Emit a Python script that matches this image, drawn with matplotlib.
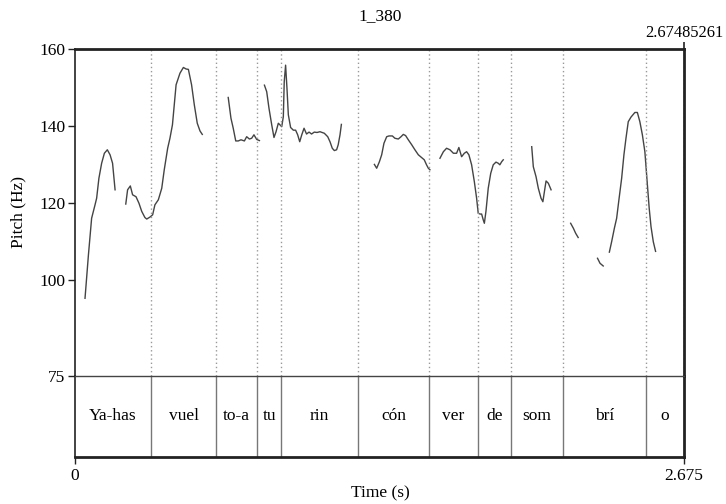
import matplotlib
matplotlib.use('Agg')
import matplotlib.pyplot as plt

plt.rcParams['font.family'] = ['Liberation Serif', 'DejaVu Serif']

# total duration and text tier
T_END = 2.67485261
syllables = ['Ya-has', 'vuel', 'to-a', 'tu', 'rin', 'cón', 'ver', 'de', 'som', 'brí', 'o']
bounds = [0.0, 0.334, 0.621, 0.799, 0.906, 1.244, 1.555, 1.771, 1.913, 2.144, 2.507, T_END]

# pitch contour pieces (time s, Hz)
seg1_t = [0.044, 0.059, 0.073, 0.088, 0.095, 0.105, 0.117, 0.129, 0.142, 0.154, 0.165, 0.176]
seg1_hz = [95.2, 106.5, 116.0, 119.5, 121.2, 126.4, 130.3, 132.9, 133.8, 132.5, 130.3, 123.4]

seg2_t = [0.223, 0.231, 0.243, 0.253, 0.268, 0.281, 0.293, 0.307, 0.315, 0.329, 0.341, 0.351,
          0.366, 0.381, 0.392, 0.407, 0.417, 0.428, 0.444, 0.461, 0.476, 0.488, 0.498, 0.512,
          0.524, 0.537, 0.549, 0.559]
seg2_hz = [119.7, 123.4, 124.4, 122.1, 121.6, 119.9, 117.8, 116.2, 115.8, 116.3, 116.9, 119.5,
           120.8, 123.8, 128.6, 134.2, 136.8, 140.3, 150.7, 153.7, 155.2, 154.8, 154.7, 150.7,
           145.5, 140.7, 138.7, 137.8]

seg3_t = [0.673, 0.685, 0.695, 0.706, 0.717, 0.729, 0.744, 0.754, 0.766, 0.776, 0.786, 0.798, 0.810]
seg3_hz = [147.4, 142.0, 139.4, 136.1, 136.1, 136.4, 136.1, 137.2, 136.6, 136.8, 137.7, 136.5, 136.2]

seg4_t = [0.832, 0.842, 0.852, 0.864, 0.874, 0.883, 0.893, 0.900, 0.908, 0.915, 0.919, 0.925,
          0.931, 0.937, 0.947, 0.959, 0.969, 0.978, 0.987, 0.996, 1.006, 1.017, 1.028, 1.039,
          1.051, 1.063, 1.076, 1.095, 1.110, 1.120, 1.130, 1.139, 1.149, 1.156, 1.164, 1.170]
seg4_hz = [150.6, 148.9, 144.6, 140.3, 137.0, 138.5, 140.7, 140.3, 139.8, 142.4, 151.5, 155.8,
           149.8, 142.9, 139.6, 138.9, 138.9, 137.7, 135.9, 137.7, 139.4, 137.9, 138.4, 137.9,
           138.4, 138.3, 138.5, 138.1, 137.2, 135.9, 134.2, 133.6, 133.8, 135.1, 137.7, 140.4]

seg5_t = [1.315, 1.325, 1.337, 1.347, 1.357, 1.369, 1.379, 1.394, 1.405, 1.420, 1.432, 1.442,
          1.452, 1.464, 1.479, 1.493, 1.508, 1.522, 1.534, 1.544, 1.552, 1.559]
seg5_hz = [130.0, 129.0, 130.7, 132.5, 135.5, 137.2, 137.4, 137.4, 136.8, 136.6, 137.2, 137.8,
           137.5, 136.4, 135.1, 133.8, 132.5, 131.8, 131.2, 129.9, 129.0, 128.6]

seg6_t = [1.603, 1.618, 1.632, 1.647, 1.662, 1.676, 1.686, 1.698, 1.710, 1.720, 1.730, 1.742,
          1.754, 1.764, 1.771, 1.779, 1.786, 1.793, 1.798, 1.805, 1.815, 1.826, 1.837, 1.849,
          1.859, 1.866, 1.874, 1.881]
seg6_hz = [131.6, 133.3, 134.2, 133.8, 132.9, 132.9, 134.4, 132.0, 132.9, 133.3, 132.5, 129.9,
           125.5, 121.2, 117.3, 117.1, 117.1, 115.6, 114.7, 117.8, 123.8, 127.7, 129.9, 130.6,
           130.3, 129.9, 130.7, 131.2]

seg7_t = [2.006, 2.013, 2.025, 2.035, 2.047, 2.055, 2.064, 2.069, 2.079, 2.091]
seg7_hz = [134.6, 129.4, 126.8, 123.8, 121.2, 120.3, 123.8, 125.7, 125.1, 123.4]

seg8_t = [2.177, 2.189, 2.199, 2.210]
seg8_hz = [114.7, 113.4, 112.1, 111.0]

seg9_t = [2.295, 2.306, 2.320]
seg9_hz = [105.6, 104.3, 103.6]

seg10_t = [2.347, 2.357, 2.369, 2.379, 2.389, 2.401, 2.411, 2.420, 2.430, 2.442, 2.452, 2.459,
           2.470, 2.481, 2.492, 2.503, 2.513, 2.522, 2.530, 2.540, 2.550]
seg10_hz = [107.2, 109.9, 113.4, 116.0, 120.8, 126.4, 132.5, 136.8, 141.1, 142.3, 143.0, 143.5,
            143.5, 141.1, 137.7, 133.3, 125.5, 118.6, 113.8, 109.9, 107.4]

segments = [(seg1_t, seg1_hz), (seg2_t, seg2_hz), (seg3_t, seg3_hz), (seg4_t, seg4_hz),
            (seg5_t, seg5_hz), (seg6_t, seg6_hz), (seg7_t, seg7_hz), (seg8_t, seg8_hz),
            (seg9_t, seg9_hz), (seg10_t, seg10_hz)]

W, H = 726, 504
fig = plt.figure(figsize=(W / 100, H / 100), dpi=100)
L, R = 75 / W, 684 / W
tier = fig.add_axes([L, 1 - 457 / H, R - L, (457 - 376) / H])
ax = fig.add_axes([L, 1 - 376 / H, R - L, (376 - 49) / H])
ax.patch.set_visible(False)

FS = 12.5
edge = '#222222'

# pitch panel
for t, hz in segments:
    ax.plot(t, hz, color='#444444', lw=1.0)
for b in bounds[1:]:
    ax.axvline(b, color='#999999', lw=1.0, ls=(0, (1, 2)))
ax.set_xlim(0, T_END)
ax.set_ylim(75, 160)
ax.set_yticks([75, 100, 120, 140, 160])
ax.tick_params(axis='y', direction='out', length=5, width=1, labelsize=FS, color=edge, pad=2)
ax.xaxis.set_ticks_position('top')
ax.set_xticks([T_END])
ax.set_xticklabels(['2.67485261'])
ax.tick_params(axis='x', direction='out', length=5, width=1.2, labelsize=11.8, color=edge, pad=1)
for s in ['top', 'right', 'left']:
    ax.spines[s].set_color(edge)
ax.spines['top'].set_linewidth(2)
ax.spines['right'].set_linewidth(2)
ax.spines['left'].set_linewidth(1.2)
ax.spines['bottom'].set_color('#444444')
ax.spines['bottom'].set_linewidth(1.0)

# text tier
for b in bounds[1:-1]:
    tier.axvline(b, color='#777777', lw=1.0)
for i, lab in enumerate(syllables):
    tier.text((bounds[i] + bounds[i + 1]) / 2, 0.5, lab, ha='center', va='center', fontsize=FS)
tier.set_xlim(0, T_END)
tier.set_ylim(0, 1)
tier.set_yticks([])
tier.set_xticks([0, 2.675])
tier.set_xticklabels(['0', '2.675'])
tier.tick_params(axis='x', direction='out', length=5, width=1, labelsize=FS, color=edge, pad=3)
tier.spines['top'].set_visible(False)
for s in ['bottom', 'right', 'left']:
    tier.spines[s].set_color(edge)
tier.spines['bottom'].set_linewidth(2)
tier.spines['right'].set_linewidth(2)
tier.spines['left'].set_linewidth(1.2)

fig.text(380 / W, 1 - 16 / H, '1_380', ha='center', va='center', fontsize=FS)
fig.text(18 / W, 1 - 212 / H, 'Pitch (Hz)', ha='center', va='center', rotation=90, fontsize=FS)
fig.text(380 / W, 1 - 493 / H, 'Time (s)', ha='center', va='center', fontsize=FS)

fig.savefig('out.png', dpi=100)
